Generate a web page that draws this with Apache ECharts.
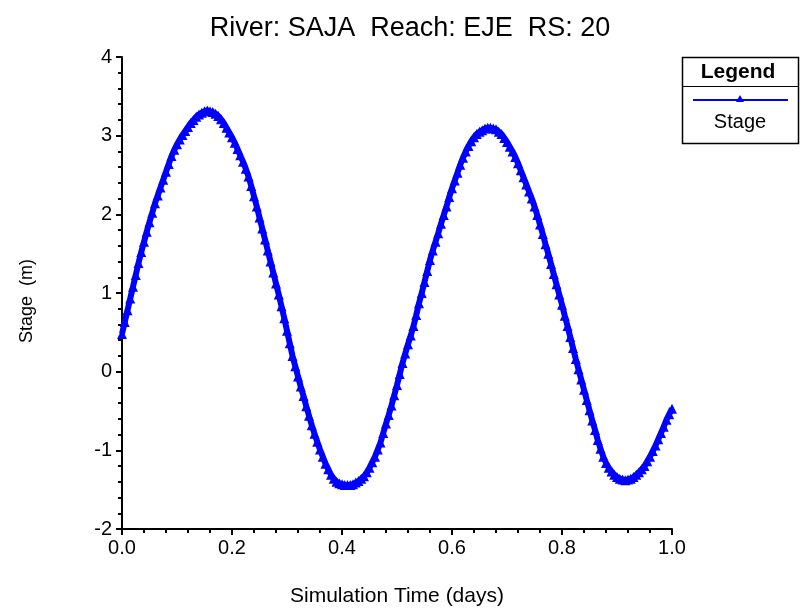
<!DOCTYPE html>
<html>
<head>
<meta charset="utf-8">
<script src="https://cdn.jsdelivr.net/npm/echarts@6/dist/echarts.min.js"></script>
<style>html,body{margin:0;padding:0;background:#fff}#c{width:802px;height:610px}</style>
</head>
<body>
<div id="c"></div>
<script>
const titleText = 'River: SAJA  Reach: EJE  RS: 20';
const xName = 'Simulation Time (days)';
const yName = 'Stage  (m)';
const seriesName = 'Stage';
const times = [
0.000,0.005,0.010,0.015,0.020,0.025,0.030,0.035,0.040,0.045,
0.050,0.055,0.060,0.065,0.070,0.075,0.080,0.085,0.090,0.095,
0.100,0.105,0.110,0.115,0.120,0.125,0.130,0.135,0.140,0.145,
0.150,0.155,0.160,0.165,0.170,0.175,0.180,0.185,0.190,0.195,
0.200,0.205,0.210,0.215,0.220,0.225,0.230,0.235,0.240,0.245,
0.250,0.255,0.260,0.265,0.270,0.275,0.280,0.285,0.290,0.295,
0.300,0.305,0.310,0.315,0.320,0.325,0.330,0.335,0.340,0.345,
0.350,0.355,0.360,0.365,0.370,0.375,0.380,0.385,0.390,0.395,
0.400,0.405,0.410,0.415,0.420,0.425,0.430,0.435,0.440,0.445,
0.450,0.455,0.460,0.465,0.470,0.475,0.480,0.485,0.490,0.495,
0.500,0.505,0.510,0.515,0.520,0.525,0.530,0.535,0.540,0.545,
0.550,0.555,0.560,0.565,0.570,0.575,0.580,0.585,0.590,0.595,
0.600,0.605,0.610,0.615,0.620,0.625,0.630,0.635,0.640,0.645,
0.650,0.655,0.660,0.665,0.670,0.675,0.680,0.685,0.690,0.695,
0.700,0.705,0.710,0.715,0.720,0.725,0.730,0.735,0.740,0.745,
0.750,0.755,0.760,0.765,0.770,0.775,0.780,0.785,0.790,0.795,
0.800,0.805,0.810,0.815,0.820,0.825,0.830,0.835,0.840,0.845,
0.850,0.855,0.860,0.865,0.870,0.875,0.880,0.885,0.890,0.895,
0.900,0.905,0.910,0.915,0.920,0.925,0.930,0.935,0.940,0.945,
0.950,0.955,0.960,0.965,0.970,0.975,0.980,0.985,0.990,0.995,
1.000];
const stage = [
0.48,0.63,0.78,0.93,1.08,1.23,1.38,1.52,1.65,1.78,
1.90,2.02,2.14,2.24,2.34,2.44,2.54,2.64,2.74,2.82,
2.89,2.95,3.01,3.06,3.11,3.16,3.20,3.24,3.27,3.29,
3.31,3.32,3.31,3.30,3.28,3.25,3.21,3.16,3.10,3.04,
2.98,2.91,2.83,2.75,2.67,2.58,2.48,2.36,2.23,2.10,
1.96,1.82,1.68,1.54,1.40,1.26,1.12,0.98,0.83,0.68,
0.52,0.36,0.20,0.07,-0.06,-0.19,-0.31,-0.44,-0.56,-0.68,
-0.79,-0.89,-0.99,-1.08,-1.17,-1.24,-1.31,-1.36,-1.40,-1.42,
-1.43,-1.44,-1.44,-1.44,-1.43,-1.41,-1.39,-1.36,-1.33,-1.28,
-1.22,-1.15,-1.08,-0.99,-0.90,-0.78,-0.66,-0.55,-0.43,-0.30,
-0.17,-0.03,0.11,0.23,0.35,0.46,0.58,0.72,0.87,1.00,
1.14,1.28,1.42,1.54,1.65,1.76,1.88,1.99,2.10,2.22,
2.33,2.43,2.53,2.63,2.72,2.80,2.87,2.93,2.98,3.02,
3.05,3.07,3.09,3.10,3.10,3.09,3.08,3.05,3.02,2.97,
2.92,2.86,2.80,2.73,2.65,2.56,2.47,2.38,2.29,2.20,
2.10,1.99,1.87,1.75,1.62,1.50,1.37,1.24,1.11,0.98,
0.85,0.71,0.58,0.44,0.30,0.16,0.03,-0.10,-0.23,-0.36,
-0.49,-0.62,-0.74,-0.87,-0.98,-1.08,-1.16,-1.22,-1.27,-1.31,
-1.34,-1.36,-1.37,-1.38,-1.37,-1.36,-1.34,-1.31,-1.28,-1.24,
-1.20,-1.14,-1.08,-1.01,-0.94,-0.86,-0.78,-0.70,-0.61,-0.54,
-0.47];
const data = times.map((t, i) => [t, stage[i]]);
const font = '"Liberation Sans", Arial, sans-serif';
const blue = '#0000ff';

const chart = echarts.init(document.getElementById('c'), null, {renderer: 'canvas'});
chart.setOption({
  animation: false,
  backgroundColor: '#fff',
  title: {
    text: titleText, left: 405, top: 10, textAlign: 'center',
    textStyle: {fontFamily: font, fontSize: 27, fontWeight: 'normal', color: '#000'}
  },
  grid: {left: 122, right: 130, top: 57, bottom: 81, containLabel: false, outerBoundsMode: 'none'},
  xAxis: {
    type: 'value', min: 0, max: 1, interval: 0.2,
    name: xName, nameLocation: 'middle', nameGap: 57,
    nameTextStyle: {fontFamily: font, fontSize: 21, color: '#000'},
    axisLine: {show: true, onZero: false, lineStyle: {color: '#000', width: 2}},
    axisTick: {show: true, length: 6, lineStyle: {color: '#000', width: 2}},
    minorTick: {show: true, splitNumber: 5, length: 4, lineStyle: {color: '#000', width: 2}},
    splitLine: {show: false},
    axisLabel: {fontFamily: font, fontSize: 20, color: '#000', margin: 9, formatter: v => v.toFixed(1)}
  },
  yAxis: {
    type: 'value', min: -2, max: 4, interval: 1,
    name: yName, nameLocation: 'middle', nameGap: 86, nameRotate: 90,
    nameTextStyle: {fontFamily: font, fontSize: 18, color: '#000', padding: [0, 16, 0, 0]},
    axisLine: {show: true, onZero: false, lineStyle: {color: '#000', width: 2}},
    axisTick: {show: true, length: 6, lineStyle: {color: '#000', width: 2}},
    minorTick: {show: true, splitNumber: 5, length: 4, lineStyle: {color: '#000', width: 2}},
    splitLine: {show: false},
    axisLabel: {fontFamily: font, fontSize: 20, color: '#000', margin: 10}
  },
  series: [{
    name: seriesName, type: 'line', data: data,
    symbol: 'triangle', symbolSize: 10, showAllSymbol: true,
    itemStyle: {color: blue}, lineStyle: {color: blue, width: 6}
  }],
  graphic: [
    {type: 'rect', shape: {x: 682.5, y: 57.5, width: 116, height: 86}, style: {fill: '#fff', stroke: '#000', lineWidth: 1.5}},
    {type: 'line', shape: {x1: 682.5, y1: 86.5, x2: 798.5, y2: 86.5}, style: {stroke: '#000', lineWidth: 1}},
    {type: 'text', x: 738, y: 72, style: {text: 'Legend', fontFamily: font, fontSize: 21, fontWeight: 'bold', fill: '#000', align: 'center', verticalAlign: 'middle'}},
    {type: 'line', shape: {x1: 693, y1: 100, x2: 788, y2: 100}, style: {stroke: blue, lineWidth: 2}},
    {type: 'polygon', shape: {points: [[740, 95], [744, 102], [736, 102]]}, style: {fill: blue}},
    {type: 'text', x: 740, y: 122, style: {text: seriesName, fontFamily: font, fontSize: 20, fill: '#000', align: 'center', verticalAlign: 'middle'}}
  ]
});
</script>
</body>
</html>
